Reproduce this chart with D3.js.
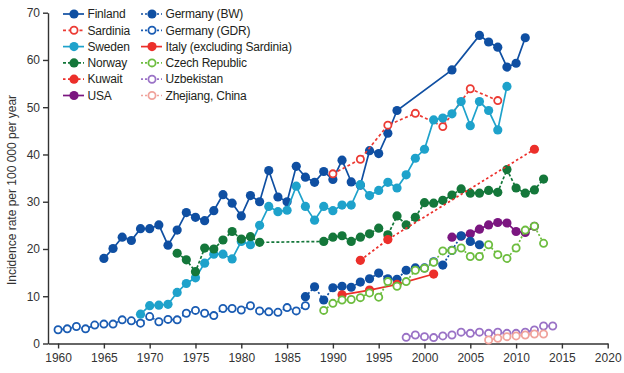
<!DOCTYPE html>
<html>
<head>
<meta charset="utf-8">
<script src="https://cdn.jsdelivr.net/npm/d3@7"></script>
<style>
  body { margin: 0; background: #fff; }
  svg { display: block; font-family: "Liberation Sans", Arial, sans-serif; }
  .axis text { fill: #333; font-size: 12px; }
  .axis path, .axis line { stroke: #333; stroke-width: 1.4; }
</style>
</head>
<body>
<div id="chart"></div>
<script>
// incidence rate per 100 000 per year
const finlandYears = [1965,1966,1967,1968,1969,1970,1971,1972,1973,1974,1975,1976,1977,1978,1979,1980,1981,1982,1983,1984,1985,1986,1987,1988,1989,1990,1991,1992,1993,1994,1995,1996,1997,2003,2006,2007,2008,2009,2010,2011]
const finlandValues = [18.0,20.1,22.5,21.8,24.3,24.3,25.1,20.8,24.0,27.7,26.7,26.0,28.1,31.5,29.7,27.0,31.3,30.0,36.6,31.0,30.0,37.5,35.2,34.1,36.4,34.7,38.8,34.2,33.5,40.8,40.2,44.5,49.3,57.9,65.2,63.8,62.7,58.5,59.3,64.7]

const sardiniaYears = [1990,1993,1996,1999,2002,2005,2008]
const sardiniaValues = [35.9,39.0,46.2,48.7,45.9,53.9,51.4]

const swedenYears = d3.range(1969, 2010)
const swedenValues = [6.2,8.0,8.1,8.3,10.8,12.7,13.9,17.0,18.9,18.9,17.9,21.6,20.9,25.0,29.0,27.9,28.2,33.3,29.0,26.1,29.0,28.1,29.3,29.3,33.6,31.3,32.4,34.1,32.9,35.7,39.2,41.1,47.3,47.7,48.6,51.2,46.1,51.2,49.3,45.2,54.4]

const norwayYears = [1973,1974,1975,1976,1977,1978,1979,1980,1981,1982,1989,1990,1991,1992,1993,1994,1995,1996,1997,1998,1999,2000,2001,2002,2003,2004,2005,2006,2007,2008,2009,2010,2011,2012,2013]
const norwayValues = [19.1,17.7,15.2,20.2,20.0,21.9,23.7,22.1,22.6,21.4,21.6,22.5,22.8,21.6,22.5,23.2,24.4,23.0,27.0,25.1,26.7,29.8,29.7,30.3,31.4,32.7,31.8,31.8,32.4,32.0,36.8,32.9,31.8,32.5,34.8]

const kuwaitYears = [1993,1996,2012]
const kuwaitValues = [17.6,22.0,41.1]

const usaYears = d3.range(2003, 2013)
const usaValues = [22.5,22.7,23.2,24.2,25.1,25.6,25.5,23.7,23.5,24.8]

const bwYears = d3.range(1987, 2007)
const bwValues = [9.9,12.0,9.2,11.8,12.1,11.9,13.0,13.7,14.9,13.7,13.6,15.5,16.0,16.0,17.3,16.6,19.7,22.8,21.6,20.9]

const gdrYears = d3.range(1960, 1988)
const gdrValues = [2.9,3.1,3.6,3.1,3.9,4.1,4.1,5.0,4.8,4.3,5.7,4.6,5.1,5.0,6.4,7.0,6.4,5.9,7.4,7.4,7.1,8.0,6.9,6.7,6.6,7.6,6.9,8.0]

const italyYears = [1991,1994,1997,2001]
const italyValues = [10.3,11.3,12.5,14.7]

const czechYears = d3.range(1989, 2014)
const czechValues = [7.0,8.5,9.2,9.3,9.7,10.7,9.8,13.1,12.1,13.1,15.5,15.9,17.2,19.6,19.7,20.2,18.4,18.4,20.9,18.8,18.0,20.2,24.0,24.8,21.2]

const uzbekYears = d3.range(1998, 2015)
const uzbekValues = [1.3,1.8,1.45,1.25,1.6,1.8,2.4,2.15,2.4,2.15,2.4,2.15,2.15,2.4,2.85,3.7,3.7]

const zhejiangYears = d3.range(2007, 2014)
const zhejiangValues = [0.75,1.1,1.45,1.6,1.8,2.0,2.0]

const xTicks = d3.range(1960, 2021, 5)
const yTicks = d3.range(0, 71, 10)

// series in legend order (first column, then second)
const series = [
  {name: "Finland", years: finlandYears, values: finlandValues, color: "#0f4fa2", open: false, dash: null},
  {name: "Sardinia", years: sardiniaYears, values: sardiniaValues, color: "#ec3b34", open: true, dash: "3,2.5"},
  {name: "Sweden", years: swedenYears, values: swedenValues, color: "#1ea2cb", open: false, dash: null},
  {name: "Norway", years: norwayYears, values: norwayValues, color: "#14773a", open: false, dash: "3,2"},
  {name: "Kuwait", years: kuwaitYears, values: kuwaitValues, color: "#ec2f2a", open: false, dash: "2.5,2.5"},
  {name: "USA", years: usaYears, values: usaValues, color: "#7b1680", open: false, dash: null},
  {name: "Germany (BW)", years: bwYears, values: bwValues, color: "#0f4fa2", open: false, dash: "2,2"},
  {name: "Germany (GDR)", years: gdrYears, values: gdrValues, color: "#1a5cb3", open: true, dash: "2,2"},
  {name: "Italy (excluding Sardinia)", years: italyYears, values: italyValues, color: "#ec2f2a", open: false, dash: null},
  {name: "Czech Republic", years: czechYears, values: czechValues, color: "#6dbd3f", open: true, dash: "2,2"},
  {name: "Uzbekistan", years: uzbekYears, values: uzbekValues, color: "#9a72c6", open: true, dash: "2,2"},
  {name: "Zhejiang, China", years: zhejiangYears, values: zhejiangValues, color: "#f0a39c", open: true, dash: "2,2"}
]

const width = 624, height = 373

const svg = d3.select("#chart").append("svg")
  .attr("width", width)
  .attr("height", height)

const x = d3.scaleLinear().domain([1958.9, 2020]).range([48, 607.7])
const y = d3.scaleLinear().domain([0, 70]).range([343.5, 12.7])

svg.append("g")
  .attr("class", "axis")
  .attr("transform", "translate(0," + y(0) + ")")
  .call(d3.axisBottom(x).tickValues(xTicks).tickFormat(d3.format("d")).tickSize(5).tickSizeOuter(0).tickPadding(5))

svg.append("g")
  .attr("class", "axis")
  .attr("transform", "translate(" + x(1958.9) + ",0)")
  .call(d3.axisLeft(y).tickValues(yTicks).tickSize(5).tickSizeOuter(0).tickPadding(3))

svg.append("text")
  .attr("transform", "translate(16,190) rotate(-90)")
  .attr("text-anchor", "middle")
  .style("font-size", "12px")
  .style("fill", "#333")
  .text("Incidence rate per 100 000 per year")

const line = d3.line().x(d => x(d[0])).y(d => y(d[1]))

const layers = svg.append("g").selectAll("g")
  .data(series)
  .join("g")

layers.append("path")
  .attr("d", s => line(d3.zip(s.years, s.values)))
  .attr("fill", "none")
  .attr("stroke", s => s.color)
  .attr("stroke-width", 1.7)
  .attr("stroke-dasharray", s => s.dash)

layers.selectAll("circle")
  .data(s => d3.zip(s.years, s.values).map(p => ({p: p, s: s})))
  .join("circle")
  .attr("cx", d => x(d.p[0]))
  .attr("cy", d => y(d.p[1]))
  .attr("r", d => d.s.open ? 3.6 : 4.6)
  .attr("fill", d => d.s.open ? "#fff" : d.s.color)
  .attr("stroke", d => d.s.open ? d.s.color : "none")
  .attr("stroke-width", 1.8)

// legend: two columns of six
const legend = svg.append("g").selectAll("g")
  .data(series)
  .join("g")
  .attr("transform", (s, i) => "translate(" + (i < 6 ? 63 : 141) + "," + (14 + (i % 6) * 16.3) + ")")

legend.append("line")
  .attr("x1", 0).attr("x2", 21)
  .attr("stroke", s => s.color)
  .attr("stroke-width", 1.7)
  .attr("stroke-dasharray", s => s.dash)

legend.append("circle")
  .attr("cx", 11)
  .attr("r", s => s.open ? 3.6 : 4.6)
  .attr("fill", s => s.open ? "#fff" : s.color)
  .attr("stroke", s => s.open ? s.color : "none")
  .attr("stroke-width", 1.8)

legend.append("text")
  .attr("x", 24.5)
  .attr("dy", "0.35em")
  .style("font-size", "12px")
  .style("letter-spacing", "-0.2px")
  .style("fill", "#231f20")
  .text(s => s.name)
</script>
</body>
</html>
